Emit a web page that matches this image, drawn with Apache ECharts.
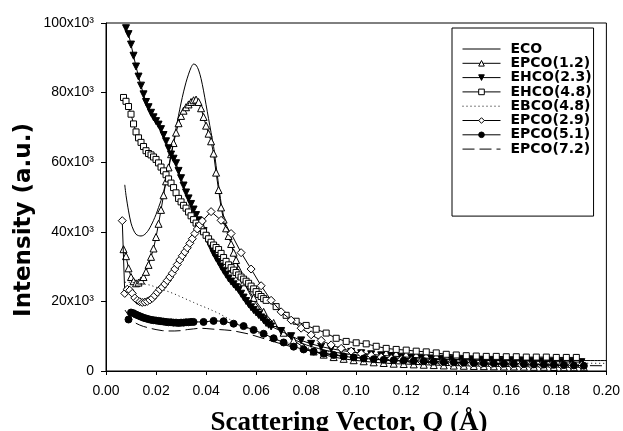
<!DOCTYPE html>
<html><head><meta charset="utf-8">
<script src="https://cdn.jsdelivr.net/npm/echarts@6/dist/echarts.min.js"></script>
<style>html,body{margin:0;padding:0;background:#fff}#c{width:623px;height:431px}</style>
</head><body><div id="c"></div>
<script>
// Intensity values are in units of 10^3 (a.u.); Q in Å
const seriesNames = ['ECO','EPCO(1.2)','EHCO(2.3)','EHCO(4.8)','EBCO(4.8)','EPCO(2.9)','EPCO(5.1)','EPCO(7.2)'];
const xTicks = [0,0.02,0.04,0.06,0.08,0.10,0.12,0.14,0.16,0.18,0.20];
const yTicks = [0,20,40,60,80,100];

const qECO = [0.0075,0.008,0.009,0.010,0.011,0.012,0.013,0.014,0.015,0.016,0.017,0.018,0.019,0.020,0.021,0.022,0.023,0.024,0.025,0.026,0.027,0.028,0.029,0.030,0.031,0.032,0.033,0.034,0.035,0.036,0.037,0.038,0.039,0.040,0.041,0.042,0.043,0.044,0.045,0.046,0.047,0.048,0.049,0.050,0.052,0.054,0.056,0.058,0.060,0.063,0.066,0.070,0.075,0.080,0.090,0.100,0.110,0.120,0.140,0.160,0.180,0.200];
const vECO = [53.5,50.5,46,42.5,40.5,39.3,38.9,38.8,39,39.6,40.5,41.8,43.3,45,47,49,51.5,54.5,58,61.8,65.8,69.8,73.5,77,80.2,83,85.3,87.2,88.2,87.9,86.5,84,80.5,76.5,72.5,68.5,64.5,59,53.5,48.3,44.5,41.5,39,36.8,32,27.8,24.2,21.5,19.3,16.5,14,11.5,9.2,7.5,5.6,4.6,4.0,3.6,3.2,3.05,3.0,3.0];

const qEPCO12 = [0.007,0.008,0.009,0.010,0.011,0.012,0.013,0.014,0.015,0.016,0.017,0.018,0.019,0.020,0.021,0.022,0.023,0.024,0.025,0.026,0.027,0.028,0.029,0.030,0.031,0.032,0.033,0.034,0.035,0.036,0.037,0.038,0.039,0.040,0.041,0.042,0.043,0.044,0.045,0.046,0.047,0.048,0.049,0.050,0.051,0.052,0.053,0.054,0.055,0.059,0.063,0.067,0.071,0.075,0.079,0.083,0.087,0.091,0.095,0.099,0.103,0.107,0.111,0.115,0.119,0.123,0.127,0.131,0.135,0.139,0.143,0.147,0.151,0.155,0.159,0.163,0.167,0.171,0.175,0.179,0.183,0.187,0.191];
const vEPCO12 = [35,33,29.5,27,25.8,25.2,25.4,26,27,28.5,30.5,32.8,35.2,38.5,42.3,46.3,50.5,54.5,58.5,62.3,65.5,68.5,71.2,73.3,74.8,75.8,76.6,77.3,77.8,78,77.3,75.5,73,70.5,68.2,66,62.5,57,52,47,43.5,41,38.8,36.5,34,31.9,29.2,27.3,25.5,21,17,13.8,11,8.8,6.8,5.6,4.7,4.0,3.5,3.1,2.8,2.5,2.3,2.1,2.0,1.9,1.8,1.7,1.6,1.55,1.5,1.45,1.4,1.35,1.3,1.3,1.25,1.2,1.2,1.15,1.1,1.1,1.1];

const qEHCO23 = [0.008,0.009,0.010,0.011,0.012,0.013,0.014,0.015,0.016,0.017,0.018,0.019,0.020,0.021,0.022,0.023,0.024,0.025,0.026,0.027,0.028,0.029,0.030,0.031,0.032,0.033,0.034,0.035,0.036,0.037,0.038,0.039,0.040,0.041,0.042,0.043,0.044,0.045,0.046,0.047,0.048,0.049,0.050,0.051,0.052,0.053,0.054,0.055,0.056,0.057,0.058,0.059,0.060,0.061,0.062,0.063,0.064,0.065,0.066,0.070,0.074,0.078,0.082,0.086,0.090,0.094,0.098,0.102,0.106,0.110,0.114,0.118,0.122,0.126,0.130,0.134,0.138,0.142,0.146,0.150,0.154,0.158,0.162,0.166,0.170,0.174,0.178,0.182,0.186,0.190];
const vEHCO23 = [98.5,96.8,93.8,90.6,87.5,84.6,82,79.5,77.3,75.8,74.2,72.9,71.8,70.8,69.5,67.8,66,64,62.2,61,59.7,57.5,55.4,53.3,51.3,49.6,48,46.4,44.8,43.3,41.8,40.2,38.6,37,35.4,33.8,32.5,31.3,30,28.8,27.7,26.6,25.7,24.9,24.1,23.3,22.2,21.1,20.1,19.2,18.3,17.5,16.8,16.1,15.4,14.6,13.8,13.3,12.8,11.5,10,8.8,7.8,7.0,6.4,5.9,5.5,5.1,4.8,4.5,4.3,4.1,3.9,3.8,3.6,3.5,3.4,3.3,3.2,3.1,3.0,2.95,2.9,2.85,2.8,2.75,2.7,2.65,2.6,2.55];

const qEHCO48 = [0.007,0.008,0.009,0.010,0.011,0.012,0.013,0.014,0.015,0.016,0.017,0.018,0.019,0.020,0.021,0.022,0.023,0.024,0.025,0.026,0.027,0.028,0.029,0.030,0.031,0.032,0.033,0.034,0.035,0.036,0.037,0.038,0.039,0.040,0.041,0.042,0.043,0.044,0.045,0.046,0.047,0.048,0.049,0.050,0.051,0.052,0.053,0.054,0.055,0.056,0.057,0.058,0.059,0.060,0.061,0.062,0.063,0.064,0.068,0.072,0.076,0.080,0.084,0.088,0.092,0.096,0.100,0.104,0.108,0.112,0.116,0.120,0.124,0.128,0.132,0.136,0.140,0.144,0.148,0.152,0.156,0.160,0.164,0.168,0.172,0.176,0.180,0.184,0.188];
const vEHCO48 = [78.6,77.5,76,73.8,71,68.7,67,65.7,64.5,63.3,62.5,62.1,61.5,60.8,59.8,58.6,57.5,56.4,55.2,54,52.7,51.2,49.6,48.6,47.6,46.8,45.7,44.6,43.5,42.5,41.7,40.9,40,39,38,37,36.2,35.5,34.9,33.8,32.6,31.5,30.5,29.7,29,28.3,27.6,27,26.4,25.8,25.2,24.4,23.6,22.8,22,21.4,20.8,20.3,18.5,16,14.3,13.1,12,10.9,9.4,8.5,8.1,7.8,7.1,6.5,6.2,6.0,5.7,5.5,5.2,4.8,4.6,4.4,4.3,4.2,4.2,4.1,4.1,4.0,4.0,4.0,3.9,3.9,3.9];

const qEBCO48 = [0.0075,0.010,0.0125,0.015,0.0175,0.020,0.0225,0.025,0.0275,0.030,0.0325,0.035,0.0375,0.040,0.0425,0.045,0.0475,0.050,0.055,0.060,0.065,0.070,0.075,0.080,0.090,0.100,0.110,0.120,0.140,0.160,0.180,0.200];
const vEBCO48 = [25.5,25.5,25.3,25,24.7,24.1,23.4,22.8,22.1,21.3,20.5,19.7,18.9,18.2,17.4,16.6,15.6,14.6,12.8,11.2,9.8,8.6,7.6,6.7,5.4,4.5,3.8,3.3,2.8,2.5,2.3,2.2];

const qEPCO29 = [0.0065,0.0075,0.0085,0.0095,0.0105,0.0115,0.0125,0.0135,0.0145,0.0155,0.0165,0.0175,0.0185,0.0195,0.0205,0.0215,0.0225,0.0235,0.0245,0.0255,0.0265,0.0275,0.0285,0.0295,0.0305,0.0315,0.0325,0.0335,0.0345,0.0355,0.0365,0.0375,0.0385,0.042,0.046,0.050,0.054,0.058,0.062,0.066,0.070,0.074,0.078,0.082,0.086,0.090,0.094,0.098,0.102,0.106,0.110,0.114,0.118,0.122,0.126,0.130,0.134,0.138,0.142,0.146,0.150,0.154,0.158,0.162,0.166,0.170,0.174,0.178,0.182,0.186,0.190];
const vEPCO29 = [43.2,22.3,23.5,23.2,22.3,21,20.3,19.9,19.7,19.8,20,20.4,20.9,21.7,22.6,23.4,24.1,25,26,27,28.1,29.3,30.6,31.9,33.1,34.2,35.4,36.7,38,39.5,40.8,42,43.1,45.8,43.3,39.5,34,29.3,24.5,20.3,17,14.6,12.3,10.4,8.8,7.5,6.5,5.7,5.0,4.5,4.0,3.6,3.3,3.0,2.8,2.6,2.45,2.3,2.2,2.1,2.0,1.95,1.9,1.85,1.8,1.75,1.7,1.7,1.65,1.6,1.6];

const qEPCO51 = [0.009,0.010,0.011,0.012,0.013,0.014,0.015,0.016,0.017,0.018,0.019,0.020,0.021,0.022,0.023,0.024,0.025,0.026,0.027,0.028,0.029,0.030,0.031,0.032,0.033,0.034,0.035,0.039,0.043,0.047,0.051,0.055,0.059,0.063,0.067,0.071,0.075,0.079,0.083,0.087,0.091,0.095,0.099,0.103,0.107,0.111,0.115,0.119,0.123,0.127,0.131,0.135,0.139,0.143,0.147,0.151,0.155,0.159,0.163,0.167,0.171,0.175,0.179,0.183,0.187,0.191];
const vEPCO51 = [14.8,16.8,16.6,16.2,15.9,15.6,15.3,15.1,14.9,14.7,14.6,14.5,14.4,14.3,14.2,14.1,14.0,14.0,13.9,13.9,13.8,13.9,13.9,14.0,14.0,14.1,14.1,14.1,14.4,14.3,13.6,12.9,11.8,10.7,9.4,8.2,7.0,6.2,5.6,5.0,4.6,4.2,3.9,3.6,3.4,3.2,3.1,3.0,2.9,2.8,2.7,2.6,2.5,2.4,2.3,2.25,2.2,2.1,2.05,2.0,1.9,1.85,1.8,1.7,1.6,1.5];

const qEPCO72 = [0.0076,0.009,0.0105,0.012,0.0135,0.015,0.0175,0.020,0.0225,0.025,0.0275,0.030,0.0325,0.035,0.0375,0.040,0.0433,0.0475,0.0506,0.0573,0.064,0.070,0.075,0.080,0.090,0.100,0.110,0.120,0.140,0.160,0.180,0.200];
const vEPCO72 = [17.5,16,14.6,13.7,13.2,12.8,12.3,11.9,11.6,11.5,11.5,11.6,11.9,12.1,12.3,12.2,12.0,11.8,11.6,10.6,9.1,7.8,6.8,6.0,4.8,3.9,3.2,2.7,2.1,1.8,1.6,1.5];

function zip(q, v) { return q.map((x, i) => [x, v[i]]); }

const qs = [qECO,qEPCO12,qEHCO23,qEHCO48,qEBCO48,qEPCO29,qEPCO51,qEPCO72];
const vs = [vECO,vEPCO12,vEHCO23,vEHCO48,vEBCO48,vEPCO29,vEPCO51,vEPCO72];

// styling per series (presentation only)
const styles = [
  {symbol:'none', line:'solid', fill:null},
  {symbol:'triangle', size:7, fill:'#fff', line:'solid'},
  {symbol:'triangle', size:7, fill:'#000', rotate:180, line:'solid'},
  {symbol:'rect', size:6, fill:'#fff', line:'solid'},
  {symbol:'none', line:[1,3], fill:null},
  {symbol:'diamond', size:8, fill:'#fff', line:'solid'},
  {symbol:'circle', size:7, fill:'#000', line:'solid'},
  {symbol:'none', line:[12,5], fill:null}
];

const series = seriesNames.map((name, i) => {
  const st = styles[i];
  const s = {
    name, type:'line', data: zip(qs[i], vs[i]),
    symbol: st.symbol === 'none' ? 'none' : st.symbol,
    symbolSize: st.size || 0,
    symbolRotate: st.rotate || 0,
    showSymbol: st.symbol !== 'none',
    lineStyle: {color:'#000', width:1, type: st.line},
    itemStyle: {color: st.fill || '#000', borderColor:'#000', borderWidth:1},
    emphasis: {disabled:true},
    clip: true,
    z: 2 + i
  };
  if (i === 0) s.smooth = 0.3;
  return s;
});

const legendData = seriesNames.map((name, i) => {
  const st = styles[i];
  const noSym = st.symbol === 'none';
  return {
    name,
    itemStyle: noSym ? {color:'rgba(0,0,0,0)', borderColor:'rgba(0,0,0,0)', opacity:0}
                     : {color: st.fill, borderColor:'#000', borderWidth:1},
    lineStyle: {color:'#000', width:1, type: st.line}
  };
});

const chart = echarts.init(document.getElementById('c'), null, {renderer:'canvas'});
chart.setOption({
  animation: false,
  backgroundColor: '#fff',
  grid: {left:106, right:14, top:23, bottom:60, show:true, borderColor:'#000', borderWidth:1, backgroundColor:'transparent'},
  xAxis: {
    type:'value', min: xTicks[0], max: xTicks[xTicks.length-1], interval: 0.02,
    axisLine:{show:true, lineStyle:{color:'#000', width:1}},
    axisTick:{show:true, length:4, inside:false, lineStyle:{color:'#000'}},
    splitLine:{show:false},
    axisLabel:{color:'#000', fontSize:14, fontFamily:'"Liberation Sans", Arial, sans-serif', margin:13,
      showMinLabel:true, showMaxLabel:true, formatter: v => v.toFixed(2)}
  },
  yAxis: {
    type:'value', min: yTicks[0], max: yTicks[yTicks.length-1], interval: 20,
    axisLine:{show:true, lineStyle:{color:'#000', width:1}},
    axisTick:{show:true, length:5, inside:false, lineStyle:{color:'#000'}},
    splitLine:{show:false},
    axisLabel:{color:'#000', fontSize:14, fontFamily:'"Liberation Sans", Arial, sans-serif', margin:12,
      showMinLabel:true, showMaxLabel:true, formatter: v => v === 0 ? '0' : v + 'x10\u00B3'}
  },
  legend: {
    show:true, orient:'vertical', left:452, top:28,
    data: legendData,
    itemWidth:38, itemHeight:7, itemGap:0.3,
    padding:[14,2,60,10],
    borderColor:'#000', borderWidth:1, backgroundColor:'#fff',
    selectedMode:false,
    textStyle:{color:'#000', fontSize:14, fontWeight:'bold', fontFamily:'"DejaVu Sans", sans-serif', padding:[0,0,0,5]}
  },
  graphic: [
    {type:'text', x:349, y:423, silent:true,
      style:{text:'Scattering Vector, Q (\u00C5)', fill:'#000', font:'bold 27px "Liberation Serif", "Times New Roman", serif', textAlign:'center', textVerticalAlign:'middle'}},
    {type:'text', x:24, y:220, rotation:Math.PI/2, silent:true,
      style:{text:'Intensity (a.u.)', fill:'#000', font:'bold 23px "DejaVu Sans", sans-serif', textAlign:'center', textVerticalAlign:'middle'}}
  ],
  series
});
</script>
</body></html>
